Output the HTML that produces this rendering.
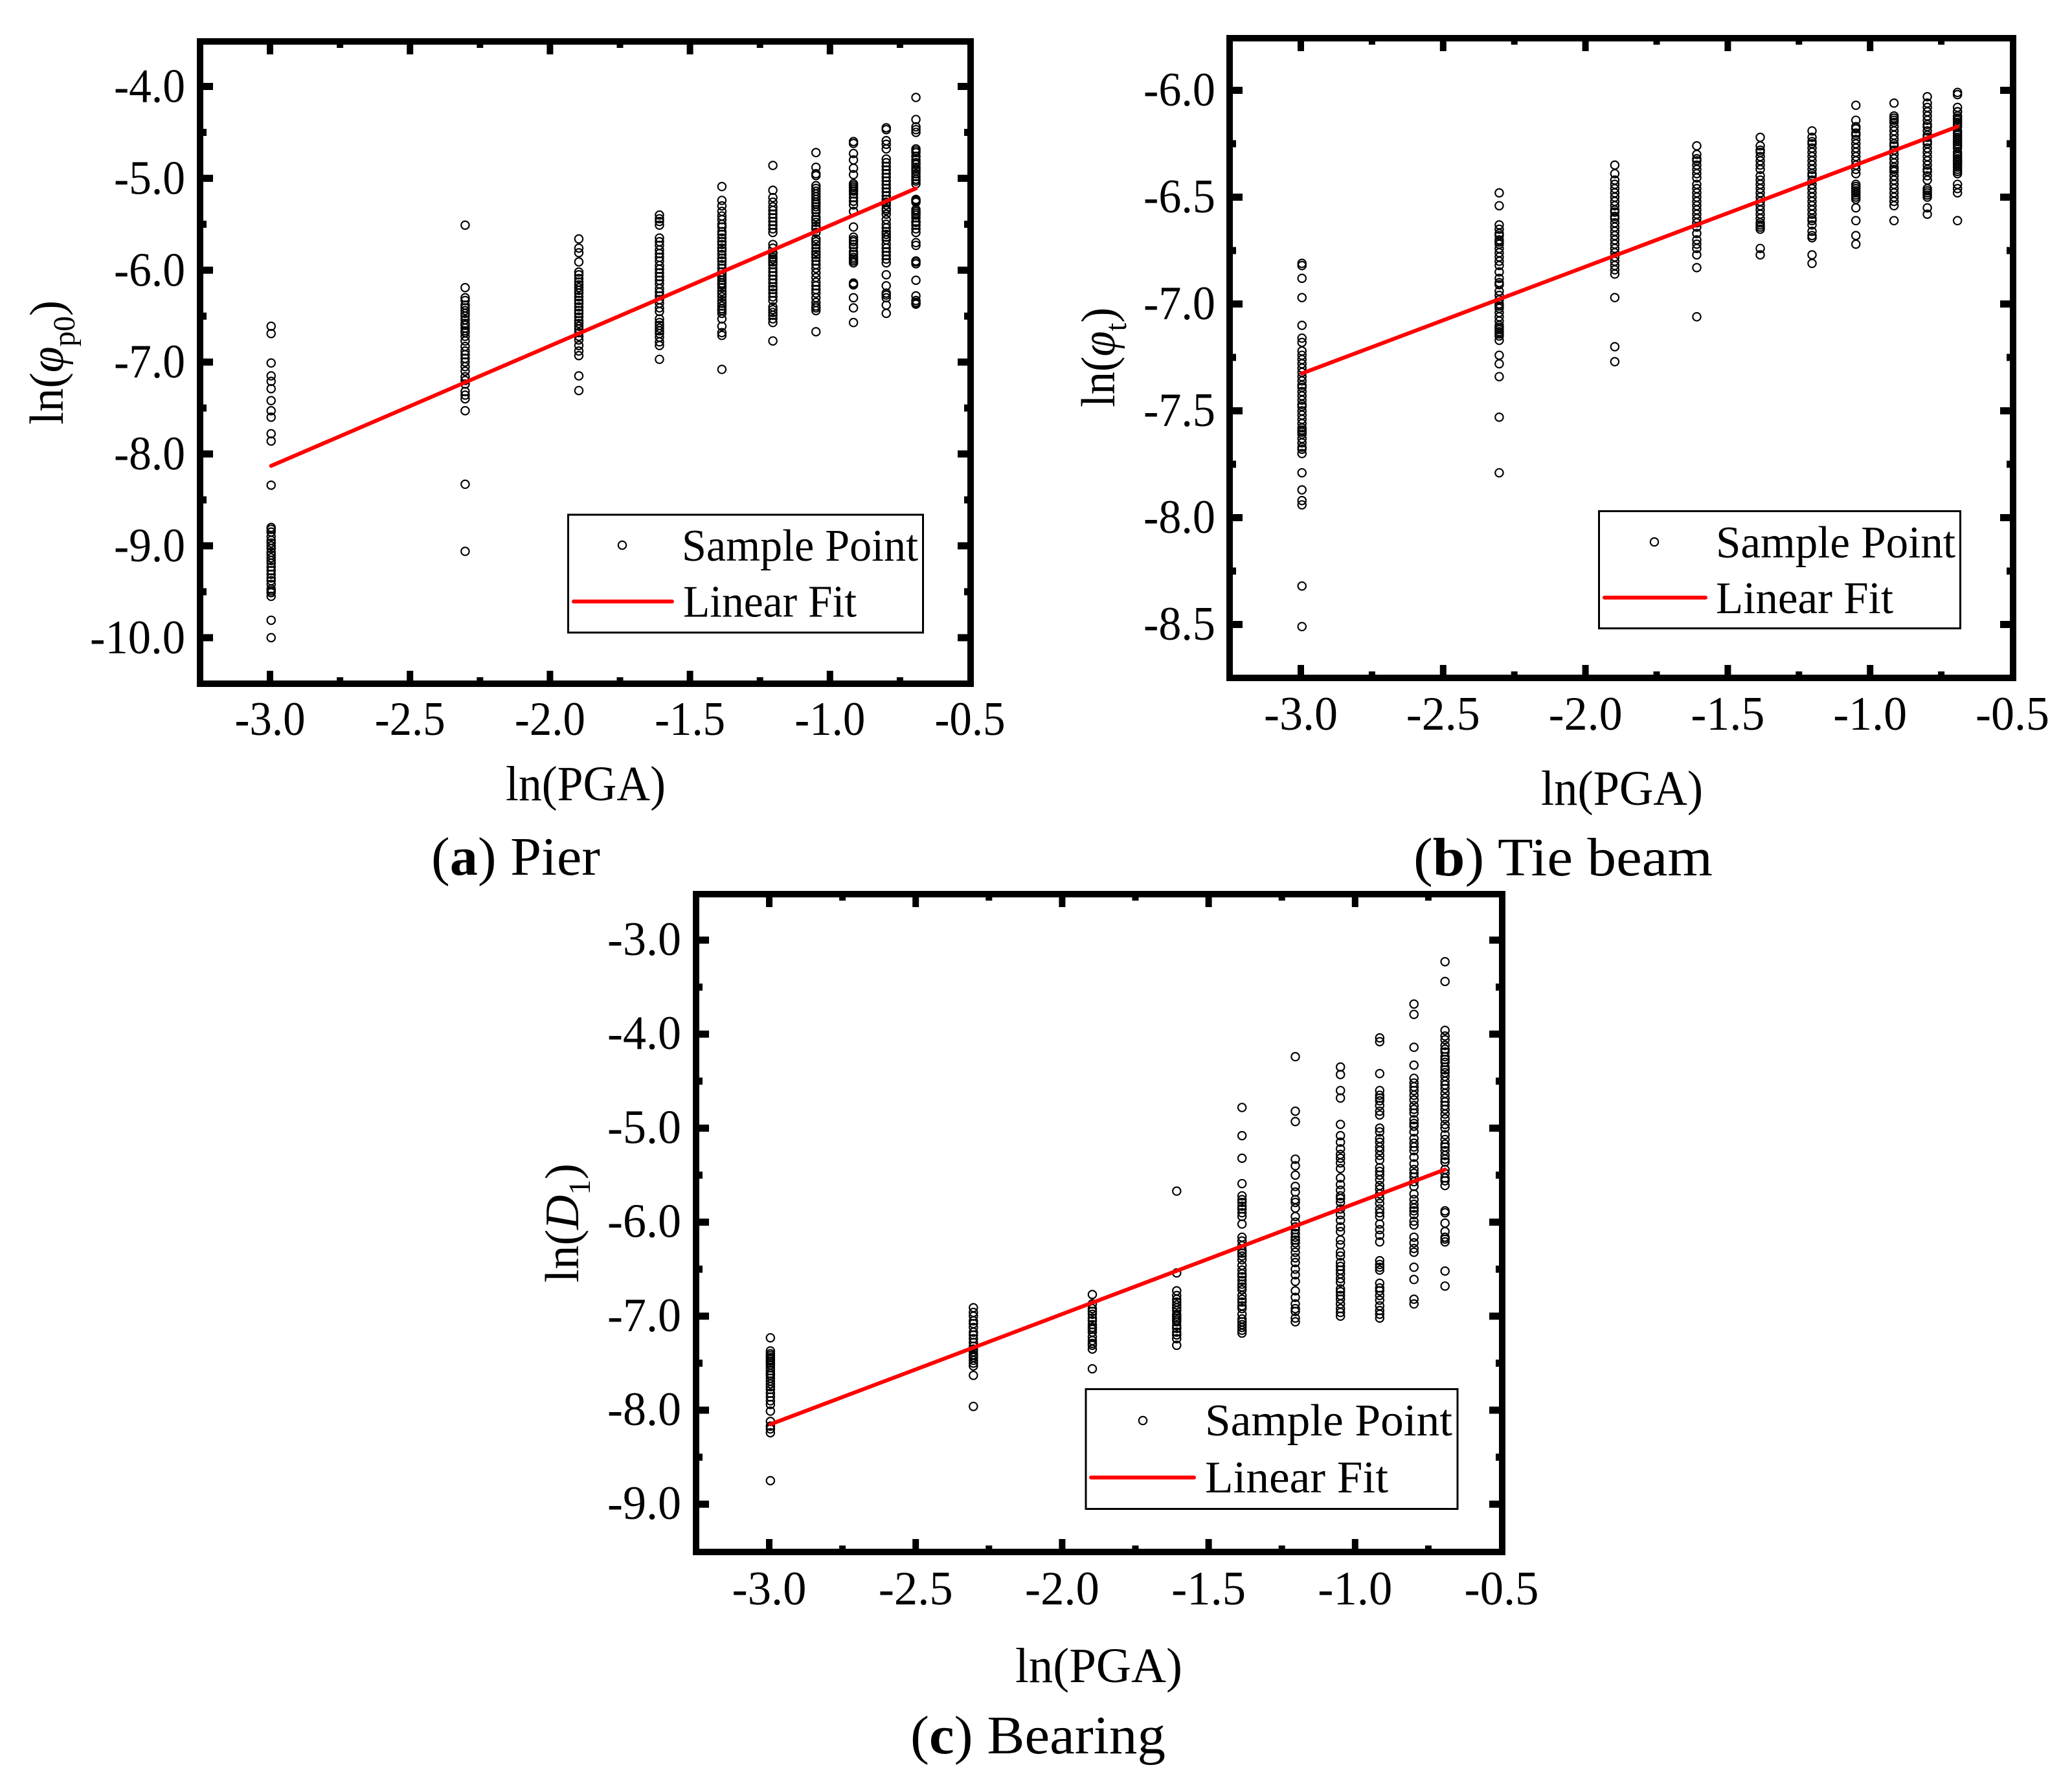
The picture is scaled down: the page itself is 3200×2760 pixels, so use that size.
<!DOCTYPE html>
<html lang="en">
<head>
<meta charset="utf-8">
<title>Probabilistic seismic demand fits</title>
<style>
html,body{margin:0;padding:0;background:#fff;width:3200px;height:2760px;overflow:hidden}
svg{display:block}
text{font-family:"Liberation Serif","Noto Serif CJK SC",serif;fill:#000}
</style>
</head>
<body>
<svg id="chart" xmlns="http://www.w3.org/2000/svg" width="3200" height="2760" viewBox="0 0 3200 2760">
<rect x="0" y="0" width="3200" height="2760" fill="#fff"/>

<g id="pier"></g>
<g id="tie"></g>
<g id="bearing"></g>

<text transform="translate(97,656) rotate(-90)" font-size="74" textLength="192" lengthAdjust="spacingAndGlyphs">ln(<tspan font-style="italic">φ</tspan><tspan dy="18" font-size="48">p0</tspan><tspan dy="-18">)</tspan></text>
<text x="781" y="1236" font-size="76" textLength="247" lengthAdjust="spacingAndGlyphs">ln(PGA)</text>
<text x="666" y="1351" font-size="84" textLength="261" lengthAdjust="spacingAndGlyphs">(<tspan font-weight="bold">a</tspan>) Pier</text>

<text transform="translate(1721,629) rotate(-90)" font-size="74" textLength="154" lengthAdjust="spacingAndGlyphs">ln(<tspan font-style="italic">φ</tspan><tspan dy="18" font-size="48">t</tspan><tspan dy="-18">)</tspan></text>
<text x="2380" y="1243" font-size="76" textLength="250" lengthAdjust="spacingAndGlyphs">ln(PGA)</text>
<text x="2183" y="1352" font-size="84" textLength="462" lengthAdjust="spacingAndGlyphs">(<tspan font-weight="bold">b</tspan>) Tie beam</text>

<text transform="translate(893,1981) rotate(-90)" font-size="74" textLength="184" lengthAdjust="spacingAndGlyphs">ln(<tspan font-style="italic">D</tspan><tspan dy="18" font-size="48">1</tspan><tspan dy="-18">)</tspan></text>
<text x="1568" y="2598" font-size="76" textLength="258" lengthAdjust="spacingAndGlyphs">ln(PGA)</text>
<text x="1406" y="2708" font-size="84" textLength="394" lengthAdjust="spacingAndGlyphs">(<tspan font-weight="bold">c</tspan>) Bearing</text>

<g>
<rect x="877.5" y="795" width="548" height="182" fill="#fff" stroke="#000" stroke-width="3"/>
<circle cx="961" cy="842" r="6.2" fill="none" stroke="#000" stroke-width="2.1"/>
<text x="1053" y="866" font-size="70" textLength="365" lengthAdjust="spacingAndGlyphs">Sample Point</text>
<line x1="886" y1="929" x2="1038" y2="929" stroke="#f00" stroke-width="6" stroke-linecap="round"/>
<text x="1055" y="952.5" font-size="70" textLength="268" lengthAdjust="spacingAndGlyphs">Linear Fit</text>
</g>
<g>
<rect x="2469.5" y="789.5" width="558" height="181" fill="#fff" stroke="#000" stroke-width="3"/>
<circle cx="2555" cy="837" r="6.2" fill="none" stroke="#000" stroke-width="2.1"/>
<text x="2650" y="861" font-size="70" textLength="370" lengthAdjust="spacingAndGlyphs">Sample Point</text>
<line x1="2478" y1="923" x2="2634" y2="923" stroke="#f00" stroke-width="6" stroke-linecap="round"/>
<text x="2650" y="947" font-size="70" textLength="274" lengthAdjust="spacingAndGlyphs">Linear Fit</text>
</g>
<g>
<rect x="1677" y="2145.5" width="574" height="185" fill="#fff" stroke="#000" stroke-width="3"/>
<circle cx="1765" cy="2194" r="6.2" fill="none" stroke="#000" stroke-width="2.1"/>
<text x="1861" y="2217" font-size="70" textLength="382" lengthAdjust="spacingAndGlyphs">Sample Point</text>
<line x1="1685" y1="2282" x2="1844" y2="2282" stroke="#f00" stroke-width="6" stroke-linecap="round"/>
<text x="1861" y="2305" font-size="70" textLength="283" lengthAdjust="spacingAndGlyphs">Linear Fit</text>
</g>
</svg>

<script>
// Shared x values: ln(PGA) levels
const pgaLevels = [-2.996, -2.303, -1.897, -1.609, -1.386, -1.204, -1.05, -0.916, -0.799, -0.693];

// Axis ticks
const xTickValues = [-3.0, -2.5, -2.0, -1.5, -1.0, -0.5];
const xMinorValues = [-2.75, -2.25, -1.75, -1.25, -0.75];
const pierYTicks = [-4, -5, -6, -7, -8, -9, -10];
const pierYMinor = [-4.5, -5.5, -6.5, -7.5, -8.5, -9.5];
const tieYTicks = [-6, -6.5, -7, -7.5, -8, -8.5];
const tieYMinor = [-6.25, -6.75, -7.25, -7.75, -8.25];
const bearingYTicks = [-3, -4, -5, -6, -7, -8, -9];
const bearingYMinor = [-3.5, -4.5, -5.5, -6.5, -7.5, -8.5];

// Linear fits: value at first and last PGA level
const pierFit = [-8.13, -5.11];
const tieFit = [-7.325, -6.17];
const bearingFit = [-8.15, -5.44];

// Sample values per PGA level, panel (a) Pier
const pierSamples = [
 [-6.61,-6.69,-7.01,-7.15,-7.21,-7.29,-7.42,-7.53,-7.60,-7.78,-7.86,-8.34,-8.80,-8.82,-8.85,-8.90,-8.94,-8.97,-9.0,-9.03,-9.07,-9.10,-9.13,-9.16,-9.19,-9.23,-9.27,-9.31,-9.35,-9.38,-9.42,-9.47,-9.49,-9.51,-9.55,-9.81,-10.0],
 [-5.51,-6.19,-6.30,-6.33,-6.38,-6.41,-6.44,-6.47,-6.50,-6.54,-6.58,-6.60,-6.63,-6.66,-6.68,-6.72,-6.77,-6.83,-6.88,-6.92,-6.96,-7.00,-7.05,-7.10,-7.16,-7.20,-7.24,-7.32,-7.36,-7.40,-7.53,-8.33,-9.06],
 [-5.66,-5.76,-5.81,-5.91,-6.02,-6.05,-6.09,-6.13,-6.16,-6.19,-6.22,-6.25,-6.29,-6.33,-6.36,-6.40,-6.44,-6.47,-6.51,-6.55,-6.58,-6.61,-6.64,-6.68,-6.72,-6.76,-6.82,-6.88,-6.93,-7.15,-7.31],
 [-5.40,-5.44,-5.47,-5.51,-5.65,-5.69,-5.73,-5.78,-5.82,-5.86,-5.90,-5.95,-5.99,-6.03,-6.07,-6.11,-6.15,-6.20,-6.24,-6.28,-6.32,-6.36,-6.41,-6.45,-6.53,-6.57,-6.60,-6.63,-6.66,-6.69,-6.73,-6.78,-6.82,-6.97],
 [-5.09,-5.24,-5.30,-5.36,-5.41,-5.45,-5.50,-5.53,-5.58,-5.61,-5.65,-5.69,-5.72,-5.76,-5.79,-5.83,-5.87,-5.90,-5.94,-5.98,-6.02,-6.05,-6.08,-6.11,-6.14,-6.16,-6.19,-6.23,-6.26,-6.29,-6.33,-6.36,-6.39,-6.42,-6.44,-6.47,-6.53,-6.61,-6.68,-6.71,-7.08],
 [-4.86,-5.13,-5.21,-5.26,-5.31,-5.35,-5.39,-5.43,-5.47,-5.51,-5.55,-5.59,-5.72,-5.76,-5.81,-5.83,-5.86,-5.88,-5.91,-5.94,-5.98,-6.02,-6.06,-6.10,-6.14,-6.18,-6.21,-6.25,-6.29,-6.33,-6.40,-6.43,-6.46,-6.49,-6.53,-6.57,-6.77],
 [-4.72,-4.88,-4.95,-4.97,-5.08,-5.11,-5.14,-5.17,-5.20,-5.23,-5.26,-5.28,-5.31,-5.34,-5.37,-5.42,-5.45,-5.48,-5.52,-5.55,-5.59,-5.66,-5.69,-5.72,-5.76,-5.80,-5.83,-5.86,-5.90,-5.94,-5.98,-6.03,-6.08,-6.13,-6.17,-6.21,-6.25,-6.30,-6.35,-6.39,-6.41,-6.44,-6.67],
 [-4.60,-4.62,-4.73,-4.80,-4.89,-4.96,-5.06,-5.08,-5.10,-5.12,-5.14,-5.17,-5.21,-5.25,-5.29,-5.36,-5.53,-5.64,-5.67,-5.69,-5.72,-5.75,-5.80,-5.83,-5.86,-5.88,-5.90,-5.92,-6.14,-6.15,-6.16,-6.30,-6.41,-6.57],
 [-4.45,-4.47,-4.59,-4.63,-4.68,-4.79,-4.83,-4.87,-4.91,-4.95,-4.99,-5.03,-5.07,-5.11,-5.15,-5.19,-5.23,-5.26,-5.29,-5.33,-5.35,-5.39,-5.45,-5.50,-5.54,-5.58,-5.61,-5.64,-5.67,-5.72,-5.76,-5.80,-5.84,-5.88,-5.92,-6.05,-6.17,-6.25,-6.27,-6.30,-6.38,-6.47],
 [-4.12,-4.36,-4.44,-4.47,-4.50,-4.68,-4.70,-4.72,-4.76,-4.80,-4.83,-4.85,-4.88,-4.90,-4.92,-4.95,-4.98,-5.01,-5.03,-5.06,-5.23,-5.24,-5.25,-5.26,-5.34,-5.36,-5.38,-5.40,-5.43,-5.47,-5.48,-5.51,-5.55,-5.59,-5.70,-5.73,-5.90,-5.91,-5.93,-6.11,-6.28,-6.33,-6.35,-6.36,-6.37]
];

// Sample values per PGA level, panel (b) Tie beam
const tieSamples = [
 [-6.81,-6.82,-6.88,-6.97,-7.10,-7.16,-7.18,-7.22,-7.24,-7.26,-7.28,-7.30,-7.32,-7.34,-7.36,-7.38,-7.39,-7.41,-7.43,-7.45,-7.47,-7.48,-7.50,-7.52,-7.54,-7.56,-7.58,-7.59,-7.60,-7.61,-7.63,-7.65,-7.67,-7.68,-7.70,-7.79,-7.87,-7.92,-7.94,-8.32,-8.51],
 [-6.48,-6.54,-6.63,-6.65,-6.67,-6.68,-6.70,-6.71,-6.72,-6.74,-6.76,-6.78,-6.80,-6.82,-6.85,-6.88,-6.90,-6.91,-6.94,-6.96,-6.98,-7.00,-7.01,-7.02,-7.04,-7.06,-7.08,-7.10,-7.11,-7.12,-7.13,-7.14,-7.15,-7.17,-7.24,-7.28,-7.34,-7.53,-7.79],
 [-6.35,-6.39,-6.42,-6.44,-6.46,-6.48,-6.50,-6.52,-6.54,-6.56,-6.57,-6.59,-6.60,-6.62,-6.64,-6.66,-6.68,-6.70,-6.72,-6.74,-6.76,-6.78,-6.80,-6.82,-6.84,-6.86,-6.97,-7.20,-7.27],
 [-6.26,-6.30,-6.32,-6.33,-6.35,-6.37,-6.39,-6.41,-6.44,-6.46,-6.48,-6.50,-6.52,-6.54,-6.56,-6.58,-6.60,-6.62,-6.64,-6.67,-6.70,-6.72,-6.74,-6.77,-6.83,-7.06],
 [-6.22,-6.26,-6.28,-6.29,-6.31,-6.33,-6.35,-6.37,-6.40,-6.42,-6.44,-6.46,-6.48,-6.50,-6.52,-6.54,-6.56,-6.58,-6.60,-6.62,-6.63,-6.64,-6.65,-6.74,-6.77],
 [-6.19,-6.22,-6.24,-6.25,-6.27,-6.29,-6.31,-6.33,-6.35,-6.37,-6.39,-6.40,-6.42,-6.44,-6.46,-6.48,-6.50,-6.52,-6.54,-6.56,-6.58,-6.60,-6.61,-6.63,-6.66,-6.68,-6.69,-6.77,-6.81],
 [-6.07,-6.14,-6.17,-6.18,-6.20,-6.21,-6.23,-6.25,-6.27,-6.29,-6.31,-6.33,-6.35,-6.37,-6.39,-6.44,-6.45,-6.46,-6.47,-6.48,-6.49,-6.50,-6.51,-6.55,-6.61,-6.68,-6.72],
 [-6.06,-6.12,-6.13,-6.14,-6.15,-6.17,-6.19,-6.21,-6.23,-6.25,-6.26,-6.28,-6.30,-6.32,-6.34,-6.36,-6.37,-6.38,-6.40,-6.42,-6.44,-6.46,-6.48,-6.50,-6.52,-6.54,-6.61],
 [-6.03,-6.06,-6.08,-6.10,-6.12,-6.14,-6.16,-6.17,-6.19,-6.21,-6.22,-6.24,-6.25,-6.27,-6.29,-6.31,-6.33,-6.35,-6.37,-6.38,-6.40,-6.42,-6.46,-6.47,-6.48,-6.49,-6.50,-6.55,-6.58],
 [-6.01,-6.02,-6.08,-6.10,-6.10,-6.12,-6.13,-6.14,-6.15,-6.16,-6.17,-6.19,-6.20,-6.21,-6.22,-6.23,-6.24,-6.25,-6.26,-6.27,-6.29,-6.30,-6.31,-6.32,-6.33,-6.33,-6.34,-6.35,-6.36,-6.37,-6.38,-6.39,-6.44,-6.46,-6.48,-6.61]
];

// Sample values per PGA level, panel (c) Bearing
const bearingSamples = [
 [-7.23,-7.37,-7.40,-7.42,-7.44,-7.46,-7.48,-7.50,-7.52,-7.55,-7.58,-7.61,-7.63,-7.66,-7.69,-7.72,-7.75,-7.78,-7.82,-7.86,-7.90,-7.94,-8.01,-8.12,-8.17,-8.20,-8.24,-8.75],
 [-6.91,-6.96,-7.00,-7.05,-7.08,-7.12,-7.17,-7.20,-7.24,-7.28,-7.32,-7.35,-7.38,-7.41,-7.42,-7.44,-7.47,-7.50,-7.53,-7.63,-7.96],
 [-6.77,-6.87,-6.92,-6.95,-6.98,-7.02,-7.05,-7.09,-7.12,-7.14,-7.17,-7.22,-7.26,-7.29,-7.31,-7.35,-7.56],
 [-5.67,-6.54,-6.73,-6.78,-6.82,-6.85,-6.88,-6.91,-6.94,-6.98,-7.00,-7.02,-7.04,-7.06,-7.10,-7.13,-7.17,-7.20,-7.24,-7.31],
 [-4.78,-5.08,-5.32,-5.59,-5.72,-5.76,-5.79,-5.83,-5.86,-5.90,-5.94,-6.02,-6.16,-6.20,-6.25,-6.30,-6.33,-6.36,-6.40,-6.46,-6.51,-6.55,-6.58,-6.62,-6.66,-6.69,-6.72,-6.78,-6.82,-6.85,-6.89,-6.92,-6.98,-7.03,-7.06,-7.09,-7.12,-7.15,-7.18],
 [-4.24,-4.82,-4.93,-5.33,-5.40,-5.50,-5.62,-5.68,-5.76,-5.79,-5.85,-5.94,-6.00,-6.05,-6.08,-6.12,-6.16,-6.19,-6.22,-6.27,-6.32,-6.38,-6.43,-6.50,-6.56,-6.63,-6.73,-6.80,-6.87,-6.92,-6.95,-7.02,-7.06],
 [-4.35,-4.43,-4.60,-4.68,-4.96,-5.08,-5.15,-5.22,-5.28,-5.32,-5.37,-5.43,-5.53,-5.60,-5.66,-5.72,-5.75,-5.79,-5.86,-5.92,-5.98,-6.05,-6.10,-6.19,-6.24,-6.32,-6.36,-6.43,-6.47,-6.51,-6.55,-6.60,-6.64,-6.71,-6.74,-6.78,-6.82,-6.87,-6.92,-6.96,-7.00],
 [-4.04,-4.08,-4.42,-4.60,-4.65,-4.68,-4.71,-4.76,-4.82,-4.86,-5.00,-5.04,-5.11,-5.15,-5.20,-5.24,-5.29,-5.34,-5.42,-5.46,-5.50,-5.55,-5.61,-5.65,-5.70,-5.75,-5.80,-5.86,-5.90,-5.94,-6.02,-6.08,-6.14,-6.21,-6.41,-6.45,-6.48,-6.51,-6.65,-6.70,-6.73,-6.78,-6.83,-6.89,-6.94,-6.98,-7.02],
 [-3.68,-3.79,-4.14,-4.33,-4.47,-4.52,-4.56,-4.60,-4.65,-4.70,-4.76,-4.80,-4.84,-4.91,-4.95,-4.98,-5.04,-5.11,-5.16,-5.20,-5.24,-5.31,-5.38,-5.44,-5.48,-5.52,-5.57,-5.62,-5.70,-5.76,-5.81,-5.85,-5.88,-5.92,-5.99,-6.03,-6.16,-6.22,-6.28,-6.32,-6.48,-6.61,-6.82,-6.87],
 [-3.23,-3.44,-3.96,-4.02,-4.06,-4.12,-4.16,-4.19,-4.24,-4.27,-4.30,-4.35,-4.38,-4.41,-4.45,-4.50,-4.54,-4.58,-4.63,-4.68,-4.72,-4.76,-4.80,-4.85,-4.90,-4.96,-5.00,-5.07,-5.12,-5.17,-5.20,-5.24,-5.29,-5.33,-5.36,-5.44,-5.48,-5.53,-5.56,-5.61,-5.88,-5.90,-6.01,-6.10,-6.16,-6.18,-6.21,-6.52,-6.68]
];

const NS = 'http://www.w3.org/2000/svg';

function make(parent, tag, attrs) {
  const el = document.createElementNS(NS, tag);
  for (const k in attrs) el.setAttribute(k, attrs[k]);
  parent.appendChild(el);
  return el;
}

function drawPanel(cfg) {
  const g = document.getElementById(cfg.id);
  const xScale = v => cfg.x0 + (v + 3) * cfg.xPerUnit;
  const yScale = v => cfg.y0 + (cfg.yTop - v) * cfg.yPerUnit;
  const L = cfg.left, R = cfg.right, T = cfg.top, B = cfg.bottom, t = 10;

  // x ticks
  cfg.xTicks.forEach(v => {
    const x = xScale(v);
    [[B - t - 15, B - t + 1], [T + t - 1, T + t + 15]].forEach(p => {
      if (v === -0.5) return;
      const tk = make(g, 'line', {x1: x, x2: x, y1: p[0], y2: p[1], stroke: '#000', 'stroke-width': 10});
      
      
    });
    const lb = make(g, 'text', {x: x - cfg.xLabelWidth / 2, y: cfg.xLabelY, 'font-size': 74, textLength: cfg.xLabelWidth, lengthAdjust: 'spacingAndGlyphs'});
    
    
    lb.textContent = v.toFixed(1);
  });
  cfg.xMinor.forEach(v => {
    const x = xScale(v);
    [[B - t - 5, B - t + 1], [T + t - 1, T + t + 5]].forEach(p => {
      const tk = make(g, 'line', {x1: x, x2: x, y1: p[0], y2: p[1], stroke: '#000', 'stroke-width': 10});
      
      
    });
  });

  // y ticks
  cfg.yTicks.forEach(v => {
    const y = yScale(v);
    [[L + t - 1, L + t + 15], [R - t - 15, R - t + 1]].forEach(p => {
      const tk = make(g, 'line', {x1: p[0], x2: p[1], y1: y, y2: y, stroke: '#000', 'stroke-width': 11});
      
      
    });
    const s = v.toFixed(1);
    const w = s.length > 4 ? cfg.yLabelWidth + 37 : cfg.yLabelWidth;
    const lb = make(g, 'text', {x: cfg.yLabelEnd - w, y: y + cfg.yLabelDrop, 'font-size': 74, textLength: w, lengthAdjust: 'spacingAndGlyphs'});
    
    
    lb.textContent = s;
  });
  cfg.yMinor.forEach(v => {
    const y = yScale(v);
    [[L + t - 1, L + t + 5], [R - t - 5, R - t + 1]].forEach(p => {
      const tk = make(g, 'line', {x1: p[0], x2: p[1], y1: y, y2: y, stroke: '#000', 'stroke-width': 11});
      
      
    });
  });

  // samples
  pgaLevels.forEach((lvl, i) => {
    cfg.samples[i].forEach(v => {
      const c = make(g, 'circle', {cx: xScale(lvl), cy: yScale(v), r: 6.2, fill: 'none', stroke: '#000', 'stroke-width': 2.1});
      
      
    });
  });

  // fit line
  const fit = make(g, 'line', {
    x1: xScale(pgaLevels[0]), y1: yScale(cfg.fit[0]),
    x2: xScale(pgaLevels[pgaLevels.length - 1]), y2: yScale(cfg.fit[1]),
    stroke: '#f00', 'stroke-width': 6, 'stroke-linecap': 'round'
  });
  
  

  // frame
  const fr = make(g, 'rect', {x: L + t / 2, y: T + t / 2, width: R - L - t, height: B - T - t, fill: 'none', stroke: '#000', 'stroke-width': t});
  
  
}

drawPanel({
  id: 'pier', samples: pierSamples, fit: pierFit,
  xTicks: xTickValues, xMinor: xMinorValues, yTicks: pierYTicks, yMinor: pierYMinor,
  x0: 417, xPerUnit: 432.4, y0: 133.5, yTop: -4, yPerUnit: 141.9,
  left: 304, right: 1504, top: 59, bottom: 1061,
  xLabelY: 1135, xLabelWidth: 109, yLabelEnd: 286, yLabelDrop: 24, yLabelWidth: 110
});
drawPanel({
  id: 'tie', samples: tieSamples, fit: tieFit,
  xTicks: xTickValues, xMinor: xMinorValues, yTicks: tieYTicks, yMinor: tieYMinor,
  x0: 2009, xPerUnit: 439.6, y0: 139.5, yTop: -6, yPerUnit: 330,
  left: 1894, right: 3114, top: 54, bottom: 1052,
  xLabelY: 1127, xLabelWidth: 114, yLabelEnd: 1877, yLabelDrop: 23.5, yLabelWidth: 111
});
drawPanel({
  id: 'bearing', samples: bearingSamples, fit: bearingFit,
  xTicks: xTickValues, xMinor: xMinorValues, yTicks: bearingYTicks, yMinor: bearingYMinor,
  x0: 1188, xPerUnit: 452.4, y0: 1452, yTop: -3, yPerUnit: 145.2,
  left: 1070, right: 2325, top: 1376, bottom: 2402,
  xLabelY: 2478, xLabelWidth: 115, yLabelEnd: 1052, yLabelDrop: 23, yLabelWidth: 114
});
</script>
</body>
</html>
